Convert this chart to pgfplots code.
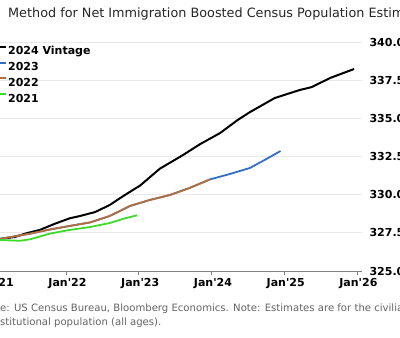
\documentclass[border=0pt]{standalone}
\usepackage{pgfplots}
\pgfplotsset{compat=1.18}
\usepackage{fontspec}
\setmainfont{DejaVu Sans}
\definecolor{cblue}{RGB}{50,110,200}
\definecolor{cbrown}{RGB}{180,110,60}
\definecolor{cgreen}{RGB}{60,220,40}
\definecolor{foot}{RGB}{100,100,100}
\begin{document}
\begin{tikzpicture}
\useasboundingbox (0pt,0pt) rectangle (400pt,-338pt);
\begin{scope}[overlay]
\clip (0pt,0pt) rectangle (400pt,-338pt);
\node[anchor=base west, inner sep=0, font=\fontsize{12.8}{15}\selectfont, text=black!85] at (8pt,-17.5pt) {Method for Net Immigration Boosted Census Population Estimates};
\begin{axis}[
  scale only axis, width=372.4pt, height=229pt, at={(-10.4pt,-271pt)}, anchor=south west,
  xmin=2020.95, xmax=2026.07, ymin=325, ymax=340,
  clip=false,
  axis x line*=bottom, axis y line*=right,
  y axis line style={draw=none},
  x axis line style={gray, line width=0.7pt},
  xtick={2021,2022,2023,2024,2025,2026},
  xticklabels={Jan\textquotesingle21,Jan\textquotesingle22,Jan\textquotesingle23,Jan\textquotesingle24,Jan\textquotesingle25,Jan\textquotesingle26},
  xtick align=outside, major tick length=4pt,
  xtick style={gray, line width=0.6pt},
  ytick={325,327.5,330,332.5,335,337.5,340},
  ytick style={draw=none},
  ymajorgrids, grid style={gray!18, line width=0.8pt},
  yticklabel style={/pgf/number format/fixed, /pgf/number format/fixed zerofill, /pgf/number format/precision=1, /pgf/number format/assume math mode=true,
    font=\bfseries\fontsize{11}{13}\selectfont, anchor=west, xshift=4pt},
  xticklabel style={font=\bfseries\fontsize{11}{13}\selectfont, xshift=1.5pt},
  legend cell align=left,
  legend style={at={(axis description cs:0.0064,0.984)}, anchor=north west, draw=none, fill=none, inner sep=0pt,
    row sep=6.8pt, column sep=1pt, nodes={inner sep=0pt, text height=8pt, text depth=0pt}, font=\bfseries\fontsize{11}{13}\selectfont},
  legend image code/.code={\draw[#1, line width=2pt] (0pt,4pt) -- (13pt,4pt);},
]
\addplot[black, line width=2pt] coordinates {
(2021.00,327.05)(2021.09,327.10)(2021.30,327.23)(2021.44,327.45)(2021.64,327.69)(2021.85,328.10)
(2022.05,328.45)(2022.19,328.60)(2022.40,328.86)(2022.60,329.32)(2022.81,329.98)(2023.02,330.60)
(2023.29,331.70)(2023.61,332.60)(2023.84,333.30)(2024.12,334.04)(2024.36,334.89)(2024.53,335.41)
(2024.87,336.33)(2025.21,336.85)(2025.38,337.05)(2025.63,337.64)(2025.96,338.23)};
\addlegendentry{2024 Vintage}
\addplot[cblue, line width=1.8pt] coordinates {
(2021.00,327.05)(2021.09,327.10)(2021.51,327.45)(2021.78,327.72)(2022.05,327.95)(2022.33,328.18)
(2022.60,328.60)(2022.88,329.26)(2023.15,329.65)(2023.43,329.98)(2023.70,330.44)(2023.98,331.00)
(2024.25,331.35)(2024.53,331.75)(2024.73,332.27)(2024.95,332.86)};
\addlegendentry{2023}
\addplot[cbrown, line width=1.8pt] coordinates {
(2021.00,327.05)(2021.09,327.10)(2021.51,327.45)(2021.78,327.72)(2022.05,327.95)(2022.33,328.18)
(2022.60,328.60)(2022.88,329.26)(2023.15,329.65)(2023.43,329.98)(2023.70,330.44)(2023.98,331.00)};
\addlegendentry{2022}
\addplot[cgreen, line width=1.8pt] coordinates {
(2021.00,327.00)(2021.09,327.03)(2021.37,326.98)(2021.51,327.08)(2021.78,327.45)(2022.05,327.69)
(2022.33,327.88)(2022.60,328.14)(2022.81,328.45)(2022.98,328.65)};
\addlegendentry{2021}
\end{axis}
\node[anchor=base west, inner sep=0, font=\fontsize{10.1}{12}\selectfont, text=foot] at (0pt,-311pt) {\llap{Sourc}e: US Census Bureau, Bloomberg Economics. Note: Estimates are for the civilian};
\node[anchor=base west, inner sep=0, font=\fontsize{10.1}{12}\selectfont, text=foot] at (0pt,-325pt) {\llap{nonin}stitutional population (all ages).};
\end{scope}
\end{tikzpicture}
\end{document}
